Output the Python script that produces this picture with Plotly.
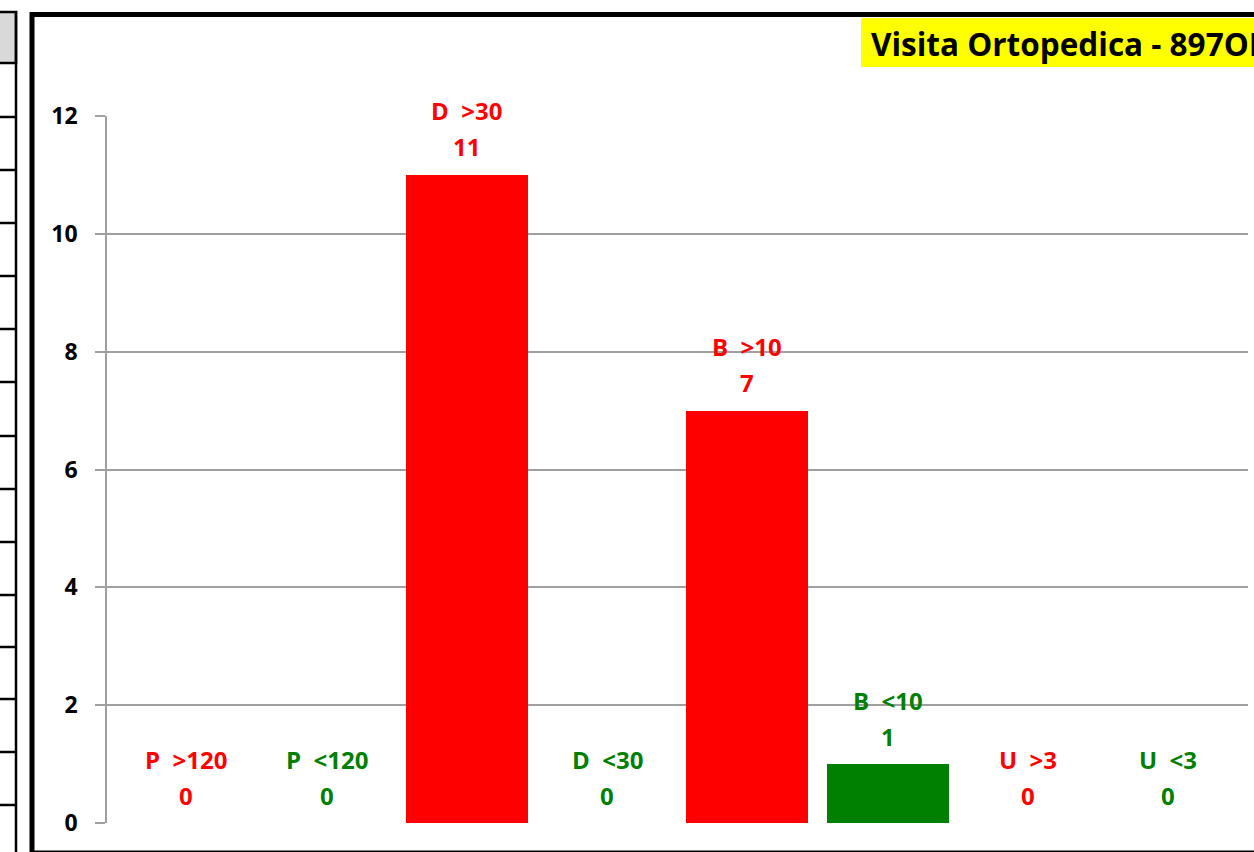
import plotly.graph_objects as go

# chart data
categories = ["P  >120", "P  <120", "D  >30", "D  <30", "B  >10", "B  <10", "U  >3", "U  <3"]
values = [0, 0, 11, 0, 7, 1, 0, 0]
colors = ["#FF0000", "#008000", "#FF0000", "#008000", "#FF0000", "#008000", "#FF0000", "#008000"]
y_ticks = [0, 2, 4, 6, 8, 10, 12]
title_text = "Visita Ortopedica - 897OI"

W, H = 1254, 852
L, R, T, B = 107, 1248, 116, 823  # plot area in pixels
FONT = "Open Sans"


def px(x):
    return (x - L) / (R - L)


def py(y):
    return (B - y) / (B - T)


fig = go.Figure()
fig.add_trace(go.Bar(x=list(range(len(categories))), y=values, marker_color=colors,
                     marker_line_width=0, width=0.87, hoverinfo="skip"))

# two-line labels above each bar: category then value
annotations = []
for i, (cat, val, col) in enumerate(zip(categories, values, colors)):
    annotations.append(dict(x=i, y=val, text=cat, showarrow=False, yanchor="middle",
                            yshift=64, font=dict(family=FONT, size=24, color=col, weight="bold")))
    annotations.append(dict(x=i, y=val, text=str(val), showarrow=False, yanchor="middle",
                            yshift=28, font=dict(family=FONT, size=24, color=col, weight="bold")))

# title in yellow box, cut at right edge
annotations.append(dict(xref="paper", yref="paper", x=px(869), y=py(43), xanchor="left", yanchor="middle",
                        text=title_text, showarrow=False,
                        font=dict(family=FONT, size=31.5, color="black", weight="bold")))

shapes = []
shapes.append(dict(type="rect", xref="paper", yref="paper", x0=px(861), x1=px(1300), y0=py(18), y1=py(67),
                   fillcolor="#FFFF00", line_width=0, layer="below"))
# outer chart frame
shapes.append(dict(type="rect", xref="paper", yref="paper", x0=px(32), x1=px(1300), y0=py(14.5), y1=py(853),
                   line=dict(color="black", width=5), fillcolor="rgba(0,0,0,0)"))
# spreadsheet strip on the left
shapes.append(dict(type="rect", xref="paper", yref="paper", x0=px(-5), x1=px(16), y0=py(12), y1=py(63),
                   fillcolor="#D9D9D9", line=dict(color="black", width=2.5), layer="below"))
shapes.append(dict(type="line", xref="paper", yref="paper", x0=px(16), x1=px(16), y0=py(11), y1=py(860),
                   line=dict(color="black", width=2.5)))
for yy in [117, 170, 223, 276, 329, 382, 436, 489, 542, 595, 647, 699, 752, 805]:
    shapes.append(dict(type="line", xref="paper", yref="paper", x0=px(0), x1=px(16), y0=py(yy), y1=py(yy),
                       line=dict(color="black", width=2.5)))

fig.update_layout(
    width=W, height=H,
    margin=dict(l=L, r=W - R, t=T, b=H - B, pad=0),
    paper_bgcolor="white", plot_bgcolor="white",
    showlegend=False, bargap=0,
    annotations=annotations, shapes=shapes,
    xaxis=dict(range=[-0.565, 7.57], showticklabels=False, ticks="", showgrid=False,
               zeroline=False, showline=False, fixedrange=True),
    yaxis=dict(range=[0, 12], tickvals=y_ticks, ticks="outside", ticklen=10, tickcolor="#A0A0A0",
               tickwidth=1.5, showline=True, linecolor="#A0A0A0", linewidth=1.5,
               showgrid=True, gridcolor="#A0A0A0", gridwidth=1.5, zeroline=False,
               ticklabelstandoff=13,
               tickfont=dict(family=FONT, size=23, color="black", weight="bold"),
               fixedrange=True),
)

# drop the default page margin so the figure sits at the window corner
fig.write_html("out.html", config={"displayModeBar": False},
               post_script="document.body.style.margin='0';document.body.style.overflow='hidden';")
